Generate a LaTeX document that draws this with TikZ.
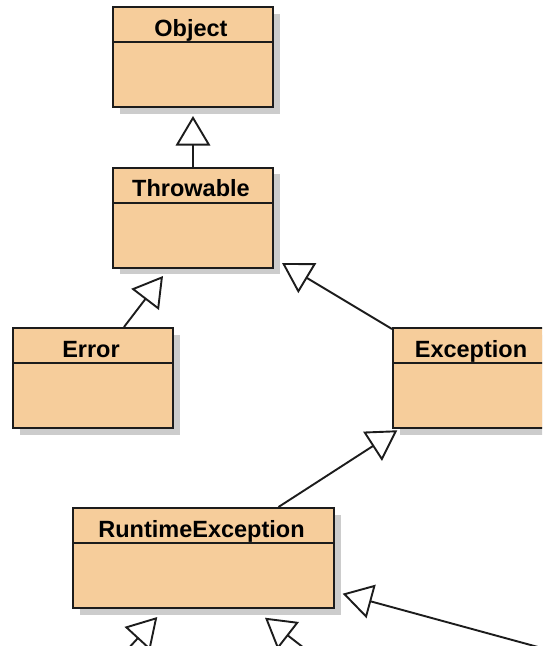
\documentclass[tikz,border=0pt]{standalone}
\usepackage{fontspec}
\setmainfont{Liberation Sans}
\usetikzlibrary{arrows.meta,shadows}
\definecolor{classfill}{RGB}{246,205,155}
\definecolor{ink}{RGB}{28,28,28}
\begin{document}
\begin{tikzpicture}[x=1pt,y=-1pt,
  classbox/.style={draw=ink, line width=2pt, fill=classfill,
    minimum height=100pt, inner sep=0pt,
    drop shadow={shadow xshift=6.5pt, shadow yshift=-6.5pt, fill=black!20, opacity=1}},
  classname/.style={anchor=base, inner sep=0pt,
    font=\bfseries\fontsize{23.5}{28}\selectfont},
  divider/.style={draw=ink, line width=2pt},
  gen/.style={draw=ink, line width=1.9pt,
    -{Triangle[open, fill=white, length=29.5pt, width=34.5pt]}},
]
\clip (0,0) rectangle (542,646);

% class boxes
\node[classbox, minimum width=160pt] (object)    at (193,57)    {};
\node[classbox, minimum width=160pt] (throwable) at (193,217.5) {};
\node[classbox, minimum width=160pt] (error)     at (93,378)    {};
\node[classbox, minimum width=160pt] (exception) at (473,378)   {};
\node[classbox, minimum width=261pt] (runtime)   at (203.5,558) {};

% name compartments
\foreach \c/\t in {object/Object, throwable/Throwable, error/Error,
                   exception/Exception, runtime/RuntimeException}{
  \node[classname] (\c name) at ([xshift=-2pt,yshift=-30pt]\c.north) {\t};
  \draw[divider] ([yshift=-36pt]\c.north west) -- ([yshift=-36pt]\c.north east);
}

% subclasses below the visible area
\coordinate (subA) at (115,663);
\coordinate (subB) at (313,655);
\coordinate (subC) at (560,653);

% generalisation arrows
\draw[gen] (throwable) -- ([yshift=-8pt]object.south);
\draw[gen] ([xshift=31pt]error.north) -- ([xshift=-30pt,yshift=-7.5pt]throwable.south);
\draw[gen] ([yshift=-2pt]exception.north west) -- ([xshift=8pt,yshift=5.5pt]throwable.south east);
\draw[gen] ([xshift=75pt]runtime.north) -- ([xshift=5.3pt,yshift=-1.3pt]exception.south west);
\draw[gen] (subA) -- ([xshift=-46.2pt,yshift=-8pt]runtime.south);
\draw[gen] (subB) -- ([xshift=61.5pt,yshift=-8.7pt]runtime.south);
\draw[gen] (subC) -- ([xshift=7.7pt,yshift=15.3pt]runtime.south east);
\end{tikzpicture}
\end{document}
